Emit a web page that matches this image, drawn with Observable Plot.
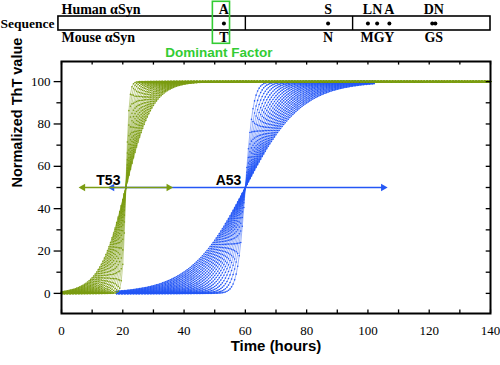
<!DOCTYPE html>
<html>
<head>
<meta charset="utf-8">
<script src="https://cdn.jsdelivr.net/npm/d3@7"></script>
<script src="https://cdn.jsdelivr.net/npm/@observablehq/plot@0.6"></script>
<style>
  body { margin: 0; background: #fff; }
  #chart { width: 500px; height: 365px; }
  #chart svg { display: block; }
</style>
</head>
<body>
<div id="chart"></div>
<script>
// ---------- Sequence panel data ----------
const seqLength = 140;
const nacBounds = [60, 95];
const mutationResidues = [53, 87, 100, 103, 107, 121, 122];
const labelResidues = [53, 87, 101.5, 107, 121.5];
const humanLetters = ["A", "S", "LN", "A", "DN"];
const mouseLetters = ["T", "N", "MG", "Y", "GS"];
const dominantResidue = 53;

// ---------- Kinetics data ----------
const seriesNames = ["A53", "T53"];
const seriesColors = ["#2457f5", "#7b9c12"];
const midpoints = [60, 21];            // hours at half-max
const timeSpans = [[18, 102], [0, 140]];
// half-widths (hours from midpoint to ~1%/99%) of each fitted curve, read from the fan
const a53Widths = [6.0, 7.9, 9.8, 11.7, 13.6, 15.5, 17.4, 19.3, 21.2, 23.1,
                   24.9, 26.8, 28.7, 30.6, 32.5, 34.4, 36.3, 38.2, 40.1, 42.0];
const t53Widths = [2.5, 3.4, 4.3, 5.3, 6.2, 7.1, 8.0, 8.9, 9.9, 10.8,
                   11.7, 12.6, 13.6, 14.5, 15.4, 16.3, 17.2, 18.2, 19.1, 20.0];
const arrowStart = [16.5, 7];
const arrowEnd = [105, 35];
const arrowLevel = 50;
const labelTimes = [54.5, 15.3];
const labelLevel = 53.5;
const xTicks = [0, 20, 40, 60, 80, 100, 120, 140];
const yTicks = [0, 20, 40, 60, 80, 100];

// ---------- Build curves (Boltzmann sigmoid per fitted half-width) ----------
const widthSets = [a53Widths, t53Widths];
function buildCurves(si) {
  const rows = [];
  const [t0, t1] = timeSpans[si];
  widthSets[si].forEach((w, ci) => {
    const k = 4.6 / w;
    for (let t = t0; t <= t1 + 1e-9; t += 0.5) {
      rows.push({id: si + "-" + ci, t, v: 100 / (1 + Math.exp(-k * (t - midpoints[si])))});
    }
  });
  return rows;
}
const a53Curves = buildCurves(0);
const t53Curves = buildCurves(1);

const serif = "'Liberation Serif', 'Times New Roman', serif";
const sans = "'Liberation Sans', Arial, sans-serif";
const green = "#33cc33";

// ---------- Top sequence panel ----------
const seqPanel = Plot.plot({
  width: 500, height: 58,
  marginLeft: 61, marginRight: 10, marginTop: 2, marginBottom: 0,
  x: {domain: [0, seqLength], axis: null},
  y: {domain: [0, 4], range: [2, 58], axis: null},
  style: {background: "transparent", overflow: "visible"},
  marks: [
    Plot.rect([seqLength], {x1: -1, x2: d => d, y1: 1, y2: 2, fill: "none", stroke: "black", strokeWidth: 1.6}),
    Plot.ruleX(nacBounds, {x: d => d, y1: 1, y2: 2, stroke: "black", strokeWidth: 1.4}),
    Plot.dot(mutationResidues, {x: d => d, y: 1.5, r: 2, fill: "black", stroke: "none"}),
    Plot.text(humanLetters, {x: (d, i) => labelResidues[i], y: 0.5, text: d => d, fontFamily: serif, fontWeight: "bold", fontSize: 14}),
    Plot.text(mouseLetters, {x: (d, i) => labelResidues[i], y: 2.5, text: d => d, fontFamily: serif, fontWeight: "bold", fontSize: 14}),
    Plot.text(["Human αSyn"], {x: 0, y: 0.5, text: d => d, textAnchor: "start", fontFamily: serif, fontWeight: "bold", fontSize: 14}),
    Plot.text(["Mouse αSyn"], {x: 0, y: 2.5, text: d => d, textAnchor: "start", fontFamily: serif, fontWeight: "bold", fontSize: 14}),
    Plot.text(["Sequence"], {frameAnchor: "left", y: 1.5, dx: -61, text: d => d, textAnchor: "start", fontFamily: serif, fontWeight: "bold", fontSize: 13.5}),
    Plot.rect([dominantResidue], {x1: d => d - 3.6, x2: d => d + 2, y1: -0.05, y2: 2.95, fill: "none", stroke: green, strokeWidth: 1.6}),
    Plot.text(["Dominant Factor"], {x: dominantResidue, y: 3.5, dx: -5, dy: 1, text: d => d, fill: green, fontFamily: sans, fontWeight: "bold", fontSize: 13.5})
  ]
});

// ---------- Main kinetics plot ----------
const mainPlot = Plot.plot({
  width: 500, height: 307,
  marginLeft: 61, marginRight: 10, marginTop: 3, marginBottom: 52,
  x: {domain: [0, 140]},
  y: {domain: [-9.5, 109.5]},
  style: {background: "transparent", overflow: "visible"},
  marks: [
    Plot.line(a53Curves, {x: "t", y: "v", z: "id", stroke: seriesColors[0], strokeWidth: 0.45}),
    Plot.dot(a53Curves, {x: "t", y: "v", r: 0.8, fill: seriesColors[0], stroke: "none"}),
    Plot.line(t53Curves, {x: "t", y: "v", z: "id", stroke: seriesColors[1], strokeWidth: 0.45}),
    Plot.dot(t53Curves, {x: "t", y: "v", r: 0.8, fill: seriesColors[1], stroke: "none"}),
    ...[0, 1].flatMap(i => [
      Plot.ruleY([arrowLevel], {x1: arrowStart[i], x2: arrowEnd[i], stroke: seriesColors[i], strokeWidth: 1.6}),
      Plot.dot([arrowStart[i]], {x: d => d, y: arrowLevel, symbol: "triangle", rotate: -90, r: 2.8, fill: seriesColors[i], stroke: "none"}),
      Plot.dot([arrowEnd[i]], {x: d => d, y: arrowLevel, symbol: "triangle", rotate: 90, r: 2.8, fill: seriesColors[i], stroke: "none"})
    ]),
    Plot.text(seriesNames, {x: (d, i) => labelTimes[i], y: labelLevel, text: d => d, fontFamily: sans, fontWeight: "bold", fontSize: 14, fill: "black"}),
    Plot.ruleY(d3.range(0, 101, 10), {y: d => d, x1: d => (d % 20 === 0 ? -2.4 : -1.5), x2: 0, stroke: "black", strokeWidth: 1.3}),
    Plot.ruleY(d3.range(0, 101, 10), {y: d => d, x1: 140, x2: 138.6, stroke: "black", strokeWidth: 1.3}),
    Plot.ruleX(d3.range(0, 141, 10), {x: d => d, y1: 109.5, y2: 107.8, stroke: "black", strokeWidth: 1.3}),
    Plot.ruleX(d3.range(0, 141, 10), {x: d => d, y1: -9.5, y2: -7.8, stroke: "black", strokeWidth: 1.3}),
    Plot.axisY({ticks: yTicks, tickSize: 0, tickPadding: 11, fontFamily: serif, fontSize: 13, label: null}),
    Plot.axisX({ticks: xTicks, tickSize: 0, tickPadding: 12, fontFamily: serif, fontSize: 13, label: null}),
    Plot.text(["Normalized ThT value"], {frameAnchor: "left", dx: -44, rotate: -90, text: d => d, fontFamily: sans, fontWeight: "bold", fontSize: 14.5}),
    Plot.text(["Time (hours)"], {frameAnchor: "bottom", dy: 37, text: d => d, fontFamily: sans, fontWeight: "bold", fontSize: 15}),
    Plot.frame({stroke: "black", strokeWidth: 2})
  ]
});

document.getElementById("chart").append(seqPanel, mainPlot);
</script>
</body>
</html>
